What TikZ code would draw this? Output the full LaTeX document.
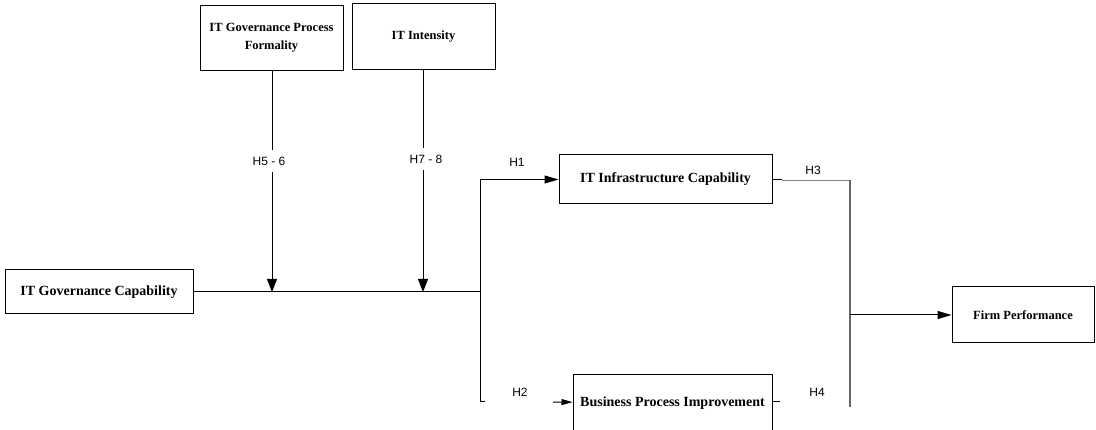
\documentclass[tikz,border=0pt]{standalone}
\usepackage{fontspec}
\setmainfont{Liberation Serif}
\newfontfamily\hypfont{Liberation Sans}
\usetikzlibrary{arrows.meta, positioning}

\begin{document}
\begin{tikzpicture}[x=1pt, y=-1pt,
    box/.style={rectangle, draw=black, line width=1pt, inner sep=2pt, font=\bfseries\fontsize{14}{17}\selectfont},
    smallbox/.style={box, align=center, font=\bfseries\fontsize{12.5}{18}\selectfont},
    hyp/.style={font=\hypfont\fontsize{12}{14}\selectfont, inner xsep=1pt, inner ysep=7pt},
    link/.style={line width=1pt},
    tipdown/.style={-{Triangle[length=13pt, width=10pt]}},
    tipright/.style={-{Triangle[length=14pt, width=8pt]}}]
    \useasboundingbox (0,0) rectangle (1096,430);
    \clip (0,0) rectangle (1096,430);

    % Nodes
    \node (formality) [smallbox, minimum width=143pt, minimum height=65pt] at (271.5,38) {IT Governance Process\\Formality};
    \node (intensity) [smallbox, minimum width=143pt, minimum height=66pt] at (423.5,37) {IT Intensity};
    \node (govcap) [box, minimum width=188pt, minimum height=44pt] at (99,292) {IT Governance Capability};
    \node (infra) [box, minimum width=213pt, minimum height=49pt] at (665.5,179.5) {IT Infrastructure Capability};
    \node (bpi) [box, minimum width=199pt, minimum height=56pt] at (672.5,403) {Business Process Improvement};
    \node (firm) [smallbox, minimum width=142pt, minimum height=56pt] at (1023,315) {Firm Performance};

    % Hypothesis labels
    \node (h56) [hyp] at (269,161) {H5 - 6};
    \node (h78) [hyp] at (426,159) {H7 - 8};
    \node (h1) [hyp] at (517,162) {H1};
    \node (h2) [hyp] at (520,392) {H2};
    \node (h3) [hyp] at (813,170) {H3};
    \node (h4) [hyp] at (817,392) {H4};

    % Junctions
    \coordinate (m1) at (272,292);
    \coordinate (m2) at (423,292);
    \coordinate (split) at (480,292);
    \coordinate (lowend) at (485,402);
    \coordinate (lowin) at (553,402);
    \coordinate (infraout) at (782,180);
    \coordinate (bpiout) at (780,402);
    \coordinate (jointop) at (850,180);
    \coordinate (joinbot) at (850,407);
    \coordinate (joinmid) at (850,315);

    % Arrows
    \draw[link] (formality.south -| m1) -- (h56.north -| m1);
    \draw[link, tipdown] (h56.south -| m1) -- (m1);
    \draw[link] (intensity.south -| m2) -- (h78.north -| m2);
    \draw[link, tipdown] (h78.south -| m2) -- (m2);
    \draw[link] (govcap) -- (split);
    \draw[link, tipright] (split) |- (infra);
    \draw[link] (split) |- (lowend);
    \draw[link, -{Triangle[length=11pt, width=6pt]}] (lowin) -- (bpi);
    \draw[link] (infra.east |- infraout) -- (infraout);
    \draw[gray, line width=0.8pt] (infraout) -- (jointop);
    \draw[gray!80!black, line width=1.6pt] (jointop) -- (joinbot);
    \draw[link] (bpi.east |- bpiout) -- (bpiout);
    \draw[link, tipright] (joinmid) -- (firm);
\end{tikzpicture}
\end{document}
